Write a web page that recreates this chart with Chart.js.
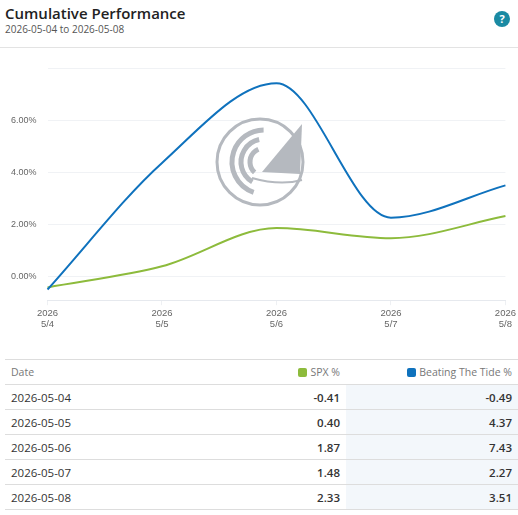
<!DOCTYPE html>
<html><head><meta charset="utf-8">
<script src="https://cdn.jsdelivr.net/npm/chart.js@4"></script>
<style>
body{margin:0;width:518px;height:515px;overflow:hidden;font-family:"Open Sans",Lato,sans-serif;background:#fff;position:relative}
#t{position:absolute;left:5px;top:3px;font-size:15px;font-weight:600;color:#222}
#s{position:absolute;left:5px;top:22px;font-size:10px;color:#555}
#q{position:absolute;left:494px;top:11px;width:16px;height:16px;border-radius:8px;background:#1a8aa3;color:#fff;font-size:11px;font-weight:700;text-align:center;line-height:16px}
#sep{position:absolute;left:0;top:47px;width:518px;border-top:1px solid #e3e3e3}
#w{position:absolute;left:0;top:52px;width:518px;height:280px}
table{position:absolute;left:5px;top:359px;width:513px;border-collapse:collapse;font-size:11.5px;color:#333}
td{height:24px;border-bottom:1px solid #ddd;padding:0 6px}
tr:first-child td{border-top:1px solid #ddd;color:#777;font-size:10.5px}
td.r{text-align:right;font-weight:600}
td.b{background:#f3f7fb}
tr:first-child td.b{background:#fff}
.sw{display:inline-block;width:9px;height:9px;border-radius:2px;margin-right:3px;vertical-align:-1px}
</style></head><body>
<div id="t">Cumulative Performance</div>
<div id="s">2026-05-04 to 2026-05-08</div>
<div id="q">?</div>
<div id="sep"></div>
<div id="w"><canvas id="c"></canvas></div>
<table id="tb"></table>
<script>
const dates=["2026-05-04","2026-05-05","2026-05-06","2026-05-07","2026-05-08"];
const xLabels=[["2026","5/4"],["2026","5/5"],["2026","5/6"],["2026","5/7"],["2026","5/8"]];
const spx=[-0.41,0.40,1.87,1.48,2.33];
const btt=[-0.49,4.37,7.43,2.27,3.51];
const tb=document.getElementById('tb');
let h='<tr><td>Date</td><td class="r" style="font-weight:400"><span class="sw" style="background:#8dbb3c"></span>SPX %</td><td class="r b" style="font-weight:400;width:160px"><span class="sw" style="background:#0f72bd"></span>Beating The Tide %</td></tr>';
dates.forEach((d,i)=>{h+=`<tr><td>${d}</td><td class="r">${spx[i].toFixed(2)}</td><td class="r b">${btt[i].toFixed(2)}</td></tr>`;});
tb.innerHTML=h;
const logo={id:'logo',beforeDatasetsDraw(c){const x=c.ctx,cx=260,cy=110;x.save();x.strokeStyle='#b5b9bf';x.fillStyle='#b5b9bf';
x.lineWidth=3;x.beginPath();x.arc(cx,cy,43,0,Math.PI*2);x.stroke();
x.lineWidth=5;[[32,1.9,4.7],[23,2.1,4.5],[14,2.3,4.3]].forEach(a=>{x.beginPath();x.arc(cx+4,cy,a[0],a[1],a[2]);x.stroke();});
x.beginPath();x.moveTo(cx+42,cy-38);x.lineTo(cx+2,cy+10);x.lineTo(cx+40,cy+12);x.closePath();x.fill();
x.lineWidth=2;x.beginPath();x.moveTo(cx-8,cy+16);x.quadraticCurveTo(cx+20,cy+24,cx+42,cy+18);x.stroke();x.restore();}};
new Chart(document.getElementById('c'),{type:'line',plugins:[logo],
data:{labels:xLabels,datasets:[
{data:btt,borderColor:'#0f72bd',borderWidth:2,pointRadius:0,cubicInterpolationMode:'monotone',fill:false},
{data:spx,borderColor:'#8dbb3c',borderWidth:2,pointRadius:0,cubicInterpolationMode:'monotone',fill:false}]},
options:{responsive:true,maintainAspectRatio:false,animation:false,
layout:{padding:{left:0,right:11,top:14,bottom:0}},
plugins:{legend:{display:false},tooltip:{enabled:false}},
scales:{x:{grid:{display:true,color:'#eef0f3',drawOnChartArea:false,tickLength:5},border:{color:'#e6e9ee'},ticks:{color:'#666',font:{size:9.5},maxRotation:0,padding:2}},
y:{min:-0.9,max:8,afterBuildTicks(a){a.ticks=[-0.9,0,2,4,6,8].map(v=>({value:v}));},
grid:{color:'#f0f2f5',drawTicks:false},border:{display:false},
ticks:{color:'#666',font:{size:9},padding:11,callback:v=>(v>=0&&v<8)?v.toFixed(2)+'%':''}}}}});
</script></body></html>
